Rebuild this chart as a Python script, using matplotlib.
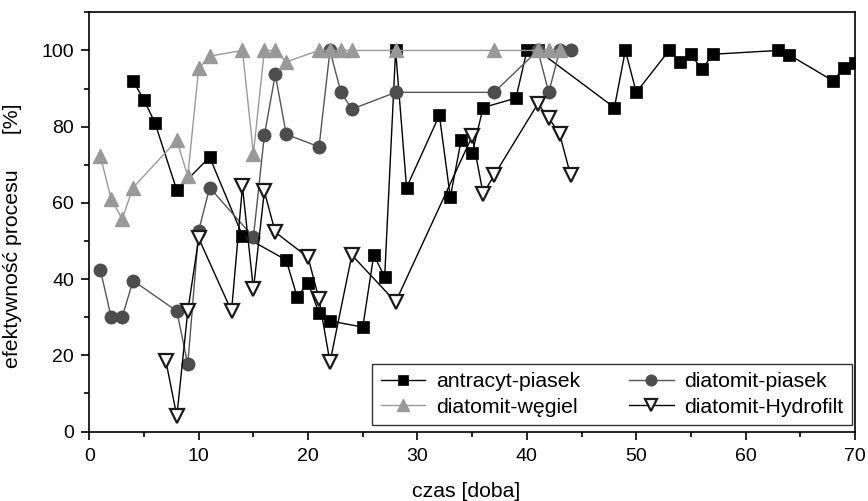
import numpy as np
import matplotlib
matplotlib.use("Agg")
import matplotlib.pyplot as plt
from matplotlib.ticker import MultipleLocator

plt.rcParams["font.family"] = ["Liberation Sans", "DejaVu Sans"]

# antracyt-piasek
ap_day = [4, 5, 6, 8, 11, 14, 18, 19, 20, 21, 22, 25, 26, 27, 28, 29, 32, 33, 34, 35, 36,
          39, 40, 41, 48, 49, 50, 53, 54, 55, 56, 57, 63, 64, 68, 69, 70]
ap_val = [92, 87, 81, 63.3, 72, 51.4, 45, 35.3, 39, 31, 29, 27.4, 46.3, 40.6, 100, 64, 83,
          61.5, 76.6, 73, 85, 87.5, 100, 100, 85, 100, 89, 100, 97, 99, 95, 99, 100, 98.8,
          92, 95.5, 96.8]

# diatomit-piasek
dp_day = [1, 2, 3, 4, 8, 9, 10, 11, 15, 16, 17, 18, 21, 22, 23, 24, 28, 37, 41, 42, 43, 44]
dp_val = [42.5, 30, 30, 39.6, 31.6, 17.6, 52.7, 64, 51, 77.7, 93.7, 78, 74.7, 100, 89,
          84.6, 89, 89, 100, 89, 100, 100]

# diatomit-wegiel
dw_day = [1, 2, 3, 4, 8, 9, 10, 11, 14, 15, 16, 17, 18, 21, 22, 23, 24, 28, 37, 41, 42, 43]
dw_val = [72.4, 61, 55.8, 64, 76.4, 67, 95.3, 98.5, 100, 72.9, 100, 100, 97, 100, 100, 100,
          100, 100, 100, 100, 100, 100]

# diatomit-Hydrofilt
dh_day = [7, 8, 9, 10, 13, 14, 15, 16, 17, 20, 21, 22, 24, 28, 35, 36, 37, 41, 42, 43, 44]
dh_val = [18.5, 4, 31.6, 50.7, 31.6, 64.3, 37.3, 63, 52.3, 45.7, 34.7, 18.2, 46.3, 34, 77.5,
          62.4, 67.2, 86, 82.3, 78, 67.2]

fig = plt.figure(figsize=(8.68, 5.01), dpi=100)
ax = fig.add_axes([0.1029, 0.1387, 0.8822, 0.8367])

l1, = ax.plot(ap_day, ap_val, color="black", lw=1.0, marker="s", ms=8.3,
              mfc="black", mec="black", mew=0.5, zorder=3, label="antracyt-piasek")
l2, = ax.plot(dp_day, dp_val, color="#555555", lw=1.0, marker="o", ms=9,
              mfc="#4d4d4d", mec="#4d4d4d", zorder=4, label="diatomit-piasek")
l3, = ax.plot(dw_day, dw_val, color="#9a9a9a", lw=1.0, marker="^", ms=10,
              mfc="#999999", mec="#999999", zorder=5, label="diatomit-węgiel")
l4, = ax.plot(dh_day, dh_val, color="black", lw=1.0, marker="v", ms=9.5,
              mfc="white", mec="#1a1a1a", mew=1.6, zorder=6, label="diatomit-Hydrofilt")

ax.set_xlim(0, 70)
ax.set_ylim(0, 110)
ax.xaxis.set_major_locator(MultipleLocator(10))
ax.xaxis.set_minor_locator(MultipleLocator(5))
ax.yaxis.set_major_locator(MultipleLocator(20))
ax.yaxis.set_minor_locator(MultipleLocator(10))
ax.tick_params(which="major", direction="out", length=6, width=1.2, labelsize=14)
ax.tick_params(axis="x", which="major", pad=6)
ax.tick_params(axis="y", which="major", pad=5)
ax.tick_params(which="minor", direction="out", length=3.5, width=1.2)
for s in ax.spines.values():
    s.set_linewidth(1.2)

ax.set_xlabel("czas [doba]", fontsize=15.3)
ax.set_ylabel("efektywność procesu      [%]", fontsize=15.3)
ax.xaxis.set_label_coords(0.492, -0.12)
ax.yaxis.set_label_coords(-0.088, 0.468)

leg = ax.legend([l1, l3, l2, l4],
                ["antracyt-piasek", "diatomit-węgiel", "diatomit-piasek", "diatomit-Hydrofilt"],
                ncol=2, loc="lower right", bbox_to_anchor=(0.996, 0.015), borderaxespad=0,
                fontsize=15.3, frameon=True, fancybox=False, edgecolor="black",
                handlelength=2.1, columnspacing=2.3, labelspacing=0.3,
                borderpad=0.4, handletextpad=0.5, markerscale=0.85)
leg.get_frame().set_linewidth(1.0)
leg.set_zorder(10)

fig.savefig("out.png", dpi=100)
